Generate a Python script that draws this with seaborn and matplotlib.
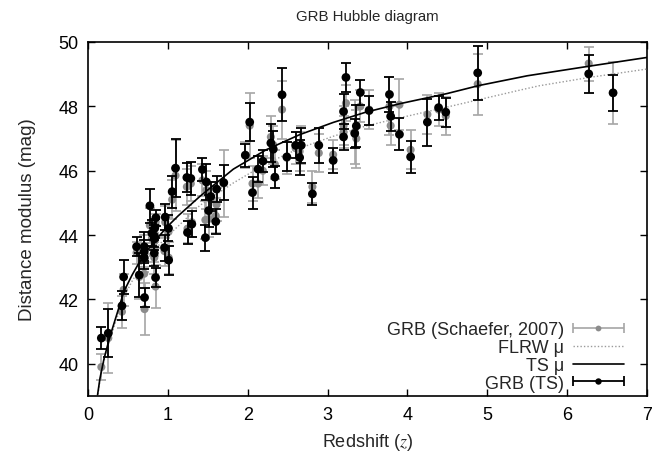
import numpy as np
import pandas as pd
import matplotlib
matplotlib.use('Agg')
import matplotlib.pyplot as plt
import seaborn as sns
from matplotlib.lines import Line2D
from matplotlib.container import ErrorbarContainer
from matplotlib.legend_handler import HandlerErrorbar

# ---- data ----
z = [0.167, 0.254, 0.425, 0.446, 0.608, 0.642, 0.704, 0.704, 0.704, 0.708,
     0.775, 0.80, 0.83, 0.85, 0.835, 0.83, 0.83, 0.846, 0.967, 0.958,
     1.008, 1.01, 1.054, 1.096, 1.238, 1.2875, 1.246, 1.30, 1.433, 1.483,
     1.5375, 1.61, 1.51, 1.47, 1.60, 1.70, 2.025, 1.97, 2.06, 2.43,
     2.13, 2.19, 2.29, 2.32, 2.34, 2.49, 2.60, 2.67, 2.65, 2.81,
     2.89, 3.07, 3.23, 3.20, 3.20, 3.36, 3.34, 3.41, 3.52, 3.775,
     3.79, 3.90, 4.04, 4.25, 4.39, 4.48, 4.88, 6.27, 6.575]
mu_ts = [40.80, 40.95, 41.80, 42.70, 43.64, 42.76, 43.64, 43.49, 43.30, 42.06,
         44.91, 44.06, 43.97, 44.54, 44.21, 43.88, 43.44, 42.68, 44.56, 43.61,
         44.21, 43.22, 45.35, 46.08, 45.79, 45.76, 44.08, 44.34, 46.04, 45.65,
         45.20, 45.43, 44.76, 43.92, 44.42, 45.63, 47.51, 46.48, 45.32, 48.36,
         46.05, 46.30, 46.86, 46.67, 45.80, 46.43, 46.79, 46.79, 46.41, 45.28,
         46.79, 46.32, 48.90, 47.84, 47.05, 47.39, 47.16, 48.43, 47.87, 48.37,
         47.69, 47.13, 46.43, 47.51, 47.96, 47.82, 49.04, 49.01, 48.42]
err_ts = [0.35, 0.75, 0.45, 0.54, 0.30, 0.67, 0.45, 0.35, 0.35, 0.30,
          0.53, 0.40, 0.35, 0.25, 0.30, 0.35, 0.40, 0.30, 0.40, 0.40,
          0.40, 0.45, 0.50, 0.90, 0.45, 0.50, 0.35, 0.40, 0.35, 0.55,
          0.45, 0.40, 0.50, 0.40, 0.40, 0.55, 0.60, 0.35, 0.50, 0.82,
          0.40, 0.35, 0.60, 0.55, 0.35, 0.45, 0.40, 0.55, 0.55, 0.35,
          0.55, 0.40, 0.45, 0.55, 0.40, 0.65, 0.45, 0.40, 0.45, 0.55,
          0.45, 0.50, 0.50, 0.73, 0.37, 0.45, 0.83, 0.60, 0.56]
mu_sch = [39.90, 40.80, 41.62, 42.30, 43.45, 42.70, 43.50, 43.30, 42.80, 41.70,
          44.30, 43.90, 43.80, 44.30, 44.00, 43.60, 43.30, 42.40, 44.40, 43.50,
          44.10, 43.30, 45.10, 45.85, 45.50, 45.60, 44.20, 44.40, 45.70, 45.40,
          45.10, 44.95, 44.50, 44.47, 44.60, 45.60, 47.40, 46.50, 45.60, 47.90,
          45.60, 46.00, 47.05, 46.80, 46.20, 46.40, 46.70, 46.80, 46.60, 45.50,
          46.55, 46.50, 48.10, 47.40, 47.20, 47.00, 47.20, 48.00, 47.90, 48.00,
          47.40, 48.05, 46.65, 47.75, 47.90, 47.70, 48.69, 49.33, 48.42]
err_sch = [0.40, 1.10, 0.50, 0.50, 0.35, 0.70, 0.50, 0.45, 0.45, 0.80,
           0.55, 0.50, 0.45, 0.35, 0.40, 0.45, 0.50, 0.67, 0.50, 0.45,
           0.45, 0.50, 0.60, 1.10, 0.55, 0.55, 0.45, 0.45, 0.50, 0.60,
           0.55, 0.50, 0.55, 0.60, 0.55, 1.03, 1.00, 0.40, 0.55, 0.90,
           0.45, 0.45, 0.65, 0.60, 0.45, 0.50, 0.50, 0.60, 0.60, 0.50,
           0.60, 0.45, 0.55, 0.60, 0.50, 0.90, 1.00, 0.50, 0.60, 0.90,
           0.60, 0.80, 0.60, 0.60, 0.50, 0.60, 0.95, 0.53, 0.96]

ts_curve_z = [0.12, 0.15, 0.20, 0.25, 0.30, 0.35, 0.45, 0.55, 0.63, 0.73, 0.83, 1.0,
              1.13, 1.4, 1.82, 2.23, 2.65, 3.07, 3.48, 3.9, 4.5, 4.9, 5.5, 6.28, 7.0]
ts_curve_mu = [39.04, 39.55, 40.15, 40.62, 41.05, 41.45, 42.25, 42.75, 43.10, 43.48, 43.80, 44.28,
               44.60, 45.20, 46.05, 46.65, 47.12, 47.50, 47.82, 48.08, 48.40, 48.65, 48.95, 49.25, 49.52]
flrw_curve_z = [0.125, 0.15, 0.20, 0.25, 0.30, 0.35, 0.45, 0.55, 0.63, 0.73, 0.83, 1.0,
                1.13, 1.4, 1.82, 2.23, 2.65, 3.07, 3.48, 3.9, 4.5, 5.4, 5.65, 6.28, 7.0]
flrw_curve_mu = [39.05, 39.48, 40.08, 40.55, 40.95, 41.33, 42.08, 42.56, 42.88, 43.24, 43.54, 43.98,
                 44.28, 44.92, 45.62, 46.22, 46.70, 47.07, 47.39, 47.64, 47.98, 48.50, 48.64, 48.90, 49.16]

xticks = [0, 1, 2, 3, 4, 5, 6, 7]
yticks = [40, 42, 44, 46, 48, 50]

# ---- style ----
sns.set_style('ticks')
plt.rcParams['font.family'] = ['Liberation Sans', 'DejaVu Sans']
plt.rcParams['mathtext.fontset'] = 'stix'

W, H = 663, 456
fig = plt.figure(figsize=(W / 100, H / 100), dpi=100)
L, R, T, B = 88, 647, 43, 397
ax = fig.add_axes([L / W, 1 - B / H, (R - L) / W, (B - T) / H])

grey_pt = '#8c8c8c'
grey_bar = '#a6a6a6'
flrw_col = '#9a9a9a'

eb_s = ax.errorbar(z, mu_sch, yerr=err_sch, fmt='none', ecolor=grey_bar,
                   elinewidth=1.2, capsize=3.5, capthick=1.2, zorder=1)
sns.scatterplot(x=z, y=mu_sch, color=grey_pt, s=34, edgecolor='none', ax=ax, zorder=2, legend=False)
sns.lineplot(x=flrw_curve_z, y=flrw_curve_mu, color=flrw_col, linestyle=(0, (1, 1.5)),
             lw=1.0, ax=ax, zorder=3, legend=False)
sns.lineplot(x=ts_curve_z, y=ts_curve_mu, color='black', lw=1.2, ax=ax, zorder=3, legend=False)
eb_t = ax.errorbar(z, mu_ts, yerr=err_ts, fmt='none', ecolor='black',
                   elinewidth=1.3, capsize=3.5, capthick=1.3, zorder=4)
sns.scatterplot(x=z, y=mu_ts, color='black', s=40, edgecolor='none', ax=ax, zorder=5, legend=False)

ax.set_xlim(0, 7)
ax.set_ylim(39, 50)
ax.set_xticks(xticks)
ax.set_yticks(yticks)
ax.tick_params(direction='in', length=5, width=1, top=True, right=True,
               labelsize=13, pad=7, colors='black')
for s in ax.spines.values():
    s.set_linewidth(1.2)
    s.set_color('black')
    s.set_visible(True)

ax.set_title('GRB Hubble diagram', fontsize=10.8, pad=16)
ax.set_xlabel(r'Redshift ($z$)', fontsize=13, labelpad=6)
ax.set_ylabel('Distance modulus (mag)', fontsize=13.5, labelpad=16)


def cont(eb, color, ms, label):
    proxy = Line2D([], [], ls='none', marker='o', color=color, ms=ms, mec='none')
    return ErrorbarContainer((proxy, eb.lines[1], eb.lines[2]),
                             has_xerr=True, has_yerr=False, label=label)


h1 = cont(eb_s, grey_pt, 4.2, 'GRB (Schaefer, 2007)')
h2 = Line2D([], [], color=flrw_col, ls=(0, (1, 1.5)), lw=1.0)
h3 = Line2D([], [], color='black', lw=1.2)
h4 = cont(eb_t, 'black', 4.6, 'GRB (TS)')
ax.legend([h1, h2, h3, h4], ['GRB (Schaefer, 2007)', 'FLRW μ', 'TS μ', 'GRB (TS)'],
          loc='lower right', bbox_to_anchor=(0.958, 0.012), frameon=False,
          markerfirst=False, handlelength=2.8, handletextpad=0.5,
          labelspacing=0.05, borderpad=0, borderaxespad=0, fontsize=13,
          handler_map={ErrorbarContainer: HandlerErrorbar(xerr_size=1.4, numpoints=1)})

fig.savefig('out.png', dpi=100)
